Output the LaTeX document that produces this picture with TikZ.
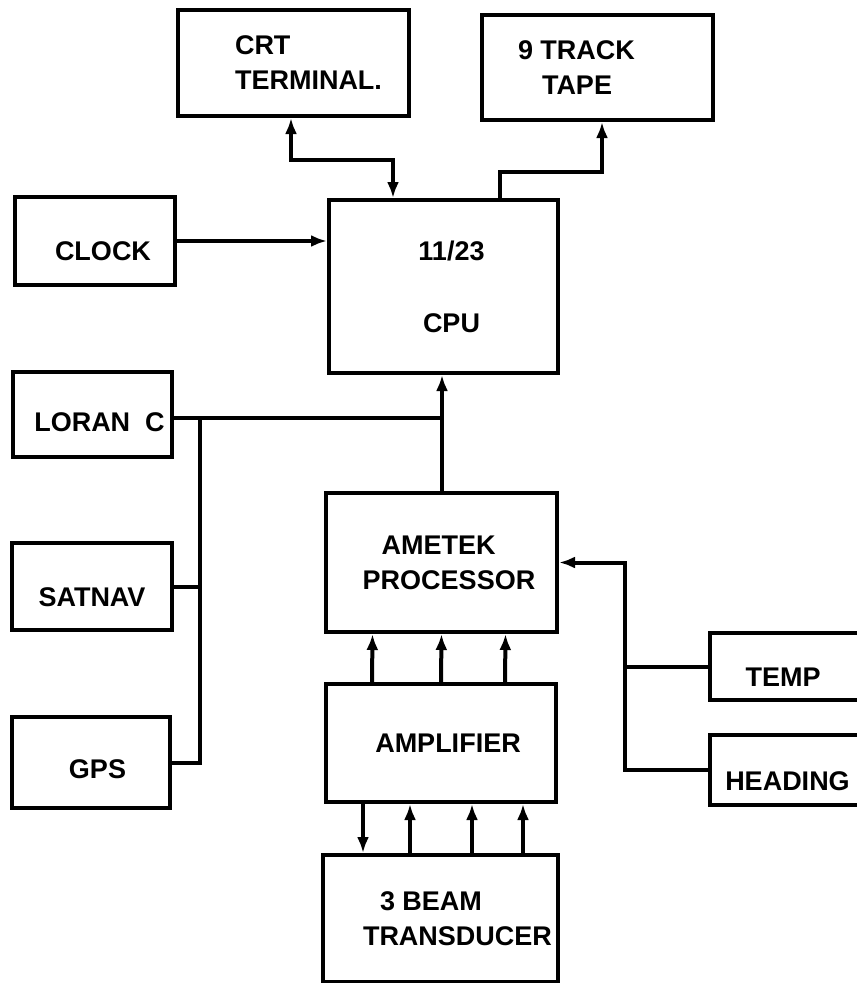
\documentclass[tikz,border=0pt]{standalone}
\usepackage{fontspec}
\setmainfont{Liberation Sans}
\usetikzlibrary{arrows.meta}
\begin{document}
\begin{tikzpicture}[
    x=1pt, y=-1pt,
    every node/.style={font=\bfseries\fontsize{27}{35}\selectfont},
    unit/.style={draw, line width=4pt, inner sep=0pt, align=left},
    drop/.style={execute at begin node={\rule{0pt}{#1}}},
    wire/.style={line width=4pt},
    feed/.style={wire, -{Latex[length=16pt,width=12pt]}},
    duplex/.style={wire, {Latex[length=16pt,width=12pt]}-{Latex[length=16pt,width=12pt]}},
    ]
    \useasboundingbox (0,0) rectangle (857,983);

    \node[unit, drop=36pt, minimum width=231pt, minimum height=106pt] (crt) at (293.5,63)
        {\hspace*{30pt}CRT\\\hspace*{30pt}TERMINAL.};
    \node[unit, drop=34pt, minimum width=231pt, minimum height=105pt] (tape) at (597.5,67.5)
        {9 TRACK\hspace*{42pt}\\\hspace*{24pt}TAPE};
    \node[unit, drop=44pt, minimum width=229pt, minimum height=173pt, align=center] (cpu) at (443.5,286.5)
        {\hspace*{16pt}11/23\\[37pt]\hspace*{16pt}CPU};
    \node[unit, drop=40pt, minimum width=160pt, minimum height=88pt] (clock) at (95,241)
        {\hspace*{16pt}CLOCK};
    \node[unit, drop=34pt, minimum width=159pt, minimum height=85pt] (loran) at (92.5,414.5)
        {\hspace*{14pt}LORAN\ \ C};
    \node[unit, drop=40pt, minimum width=160pt, minimum height=87pt] (satnav) at (92,586.5)
        {SATNAV};
    \node[unit, drop=32pt, minimum width=158pt, minimum height=91pt] (gps) at (91,762.5)
        {\hspace*{13pt}GPS};
    \node[unit, drop=36pt, minimum width=231pt, minimum height=139pt] (ametek) at (441.5,562.5)
        {\hspace*{34pt}AMETEK\\\hspace*{15pt}PROCESSOR};
    \node[unit, minimum width=230pt, minimum height=118pt] (amp) at (441,743)
        {\hspace*{14pt}AMPLIFIER};
    \node[unit, minimum width=235pt, minimum height=127pt] (xdcr) at (440.5,918.5)
        {\hspace*{51pt}3 BEAM\\\hspace*{34pt}TRANSDUCER};
    \node[unit, drop=40pt, minimum width=170pt, minimum height=67pt] (temp) at (795,666.5)
        {TEMP\hspace*{24pt}};
    \node[unit, drop=42pt, minimum width=170pt, minimum height=70pt] (heading) at (795,770)
        {HEADING\hspace*{15pt}};

    \coordinate (rb) at ([xshift=66pt]ametek.east);
    \coordinate (cb) at (442,418);
    \coordinate (lb) at (200,418);

    \draw[duplex] ([xshift=-2.5pt]crt.south) |- ([xshift=-50.5pt,yshift=38pt]cpu.north)
        -- ([xshift=-50.5pt]cpu.north);
    \draw[feed] ([xshift=56.5pt]cpu.north) |- ([xshift=4.5pt,yshift=-50pt]tape.south)
        -- ([xshift=4.5pt]tape.south);
    \draw[feed] (clock) -- (clock -| cpu.west);

    \draw[feed] (cb |- ametek.north) -- (cb |- cpu.south);
    \draw[wire] (loran.east |- lb) -- (cb);
    \draw[wire] (lb) |- (gps.east);
    \draw[wire] (satnav.east) -- (satnav.east -| lb);

    \draw[feed] (heading.west) -| (rb) -- (ametek.east);
    \draw[wire] (temp.west) -- (temp.west -| rb);

    \foreach \dx in {-69,0,64}{
    \draw[feed] ([xshift=\dx pt]amp.north) -- ([xshift=\dx pt]ametek.south);
    }
    \draw[feed] ([xshift=-78pt]amp.south) -- ([xshift=-78pt]amp.south |- xdcr.north);
    \foreach \dx in {-31,31,82}{
    \draw[feed] ([xshift=\dx pt]amp.south |- xdcr.north) -- ([xshift=\dx pt]amp.south);
    }

\end{tikzpicture}
\end{document}
